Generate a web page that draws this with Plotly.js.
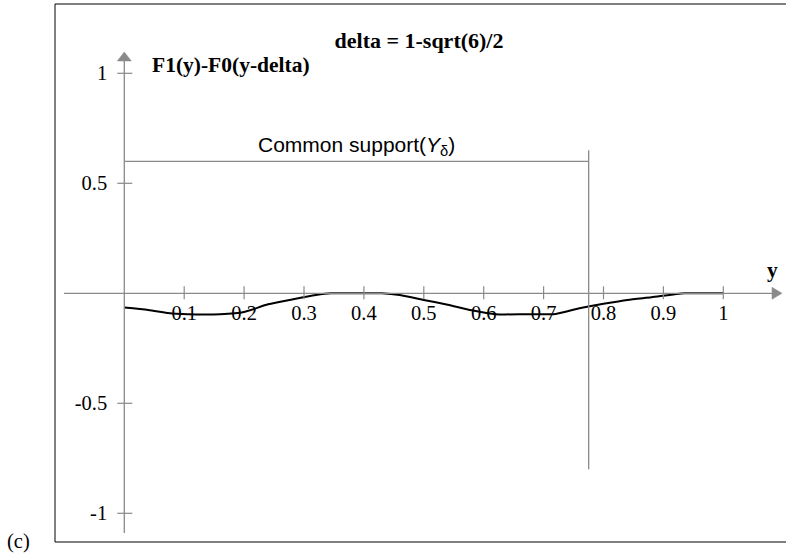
<!DOCTYPE html>
<html>
<head>
<meta charset="utf-8">
<script src="https://cdn.plot.ly/plotly-3.0.1.min.js"></script>
<style>html,body{margin:0;padding:0;background:#fff;}#chart{width:786px;height:556px;}</style>
</head>
<body>
<div id="chart"></div>
<script>
// ---- data ----
const yGrid = [0, 0.04, 0.08, 0.12, 0.16, 0.2, 0.24, 0.28, 0.32, 0.345, 0.39, 0.43, 0.46, 0.5, 0.54, 0.58, 0.62, 0.67, 0.72, 0.76, 0.8, 0.84, 0.88, 0.935, 0.97, 1];
const diffValues = [-0.065, -0.076, -0.092, -0.096, -0.095, -0.085, -0.05, -0.028, -0.008, 0, 0, 0, -0.008, -0.03, -0.052, -0.077, -0.095, -0.095, -0.094, -0.068, -0.048, -0.03, -0.018, 0, 0, 0];
const xTickVals = [0.1, 0.2, 0.3, 0.4, 0.5, 0.6, 0.7, 0.8, 0.9, 1];
const xTickText = ["0.1", "0.2", "0.3", "0.4", "0.5", "0.6", "0.7", "0.8", "0.9", "1"];
const yTickVals = [-1, -0.5, 0.5, 1];
const yTickText = ["-1", "-0.5", "0.5", "1"];
const delta = 1 - Math.sqrt(6) / 2;
const supportEnd = [1 + delta];      // right end of common support
const supportLevel = [0.6];          // height of the support bracket
const supportVert = [-0.8, 0.65];    // vertical extent of the support marker

// ---- geometry ----
const W = 786, H = 556;
const x0px = 124.3, sx = 599, y0px = 293.3, sy = 220;
const xRange = [-x0px / sx, (W - x0px) / sx];
const yRange = [-(H - y0px) / sy, y0px / sy];
const xAxisStart = (64 - x0px) / sx, xAxisEnd = (782 - x0px) / sx;
const yAxisTop = (y0px - 52) / sy, yAxisBottom = (y0px - 533) / sy;

const gray = '#8a8a8a';
const serif = '"Liberation Serif", "Times New Roman", serif';
const sans = '"Liberation Sans", Arial, sans-serif';

const shapes = [];
// frame
shapes.push({type:'rect', xref:'paper', yref:'paper', x0:55/W, x1:1.01, y0:1-542/H, y1:1-4/H, line:{color:'#000', width:1}, layer:'below'});
// axes lines
shapes.push({type:'line', xref:'x', yref:'y', x0:xAxisStart, x1:xAxisEnd-0.01, y0:0, y1:0, line:{color:gray, width:1.3}});
shapes.push({type:'line', xref:'x', yref:'y', x0:0, x1:0, y0:yAxisBottom, y1:yAxisTop-0.03, line:{color:gray, width:1.3}});
// arrowheads
shapes.push({type:'path', xref:'x', yref:'y', xsizemode:'pixel', ysizemode:'pixel', xanchor:xAxisEnd, yanchor:0, path:'M-10,-6 L0,0 L-10,6 Z', fillcolor:gray, line:{color:gray, width:0.5}});
shapes.push({type:'path', xref:'x', yref:'y', xsizemode:'pixel', ysizemode:'pixel', xanchor:0, yanchor:yAxisTop, path:'M-7,-9 L0,0 L7,-9 Z', fillcolor:gray, line:{color:gray, width:0.5}});
// ticks
xTickVals.forEach(t => shapes.push({type:'line', xref:'x', yref:'y', x0:t, x1:t, ysizemode:'pixel', yanchor:0, y0:-6, y1:7, line:{color:gray, width:1.2}}));
yTickVals.forEach(t => shapes.push({type:'line', xref:'x', yref:'y', y0:t, y1:t, xsizemode:'pixel', xanchor:0, x0:-7, x1:8, line:{color:gray, width:1.2}}));
// common support bracket
shapes.push({type:'line', xref:'x', yref:'y', x0:0, x1:supportEnd[0], y0:supportLevel[0], y1:supportLevel[0], line:{color:gray, width:1.3}});
shapes.push({type:'line', xref:'x', yref:'y', x0:supportEnd[0], x1:supportEnd[0], y0:supportVert[0], y1:supportVert[1], line:{color:gray, width:1.3}});

const trace = {
  x: yGrid, y: diffValues, type:'scatter', mode:'lines',
  line:{color:'#000', width:2, shape:'spline', smoothing:0.6},
  hoverinfo:'skip', showlegend:false
};

const layout = {
  width: W, height: H,
  margin:{l:0, r:0, t:0, b:0, pad:0},
  paper_bgcolor:'#fff', plot_bgcolor:'rgba(0,0,0,0)',
  showlegend:false,
  title:{text:'<b>delta = 1-sqrt(6)/2</b>', x:419/W, xanchor:'center', y:1-40/H, yanchor:'middle', yref:'container', xref:'container', font:{family:serif, size:22, color:'#000'}},
  xaxis:{range:xRange, domain:[0,1], anchor:'free', position:(H-y0px)/H, side:'bottom',
    showgrid:false, zeroline:false, showline:false, ticks:'', tickmode:'array', tickvals:xTickVals, ticktext:xTickText,
    tickfont:{family:serif, size:20.5, color:'#000'}, ticklabelstandoff:5, fixedrange:true},
  yaxis:{range:yRange, domain:[0,1], anchor:'free', position:x0px/W, side:'left',
    showgrid:false, zeroline:false, showline:false, ticks:'outside', ticklen:13, tickcolor:'rgba(0,0,0,0)', tickmode:'array', tickvals:yTickVals, ticktext:yTickText,
    tickfont:{family:serif, size:20.5, color:'#000'}, fixedrange:true},
  shapes: shapes,
  annotations:[
    {text:'<b>F1(y)-F0(y-delta)</b>', xref:'paper', yref:'paper', x:150/W, y:1-65/H, xanchor:'left', yanchor:'middle', showarrow:false, font:{family:serif, size:21.5, color:'#000'}},
    {text:'<b>y</b>', xref:'paper', yref:'paper', x:772/W, y:1-270/H, xanchor:'center', yanchor:'middle', showarrow:false, font:{family:serif, size:21.5, color:'#000'}},
    {text:'Common support(<i>Y</i><sub>δ</sub>)', xref:'x', yref:'paper', x:supportEnd[0]/2, y:1-146/H, xanchor:'center', yanchor:'middle', showarrow:false, font:{family:sans, size:21, color:'#000'}},
    {text:'(c)', xref:'paper', yref:'paper', x:18/W, y:1-541/H, xanchor:'center', yanchor:'middle', showarrow:false, font:{family:serif, size:20.5, color:'#000'}}
  ]
};

Plotly.newPlot('chart', [trace], layout, {displayModeBar:false, staticPlot:true});
</script>
</body>
</html>
